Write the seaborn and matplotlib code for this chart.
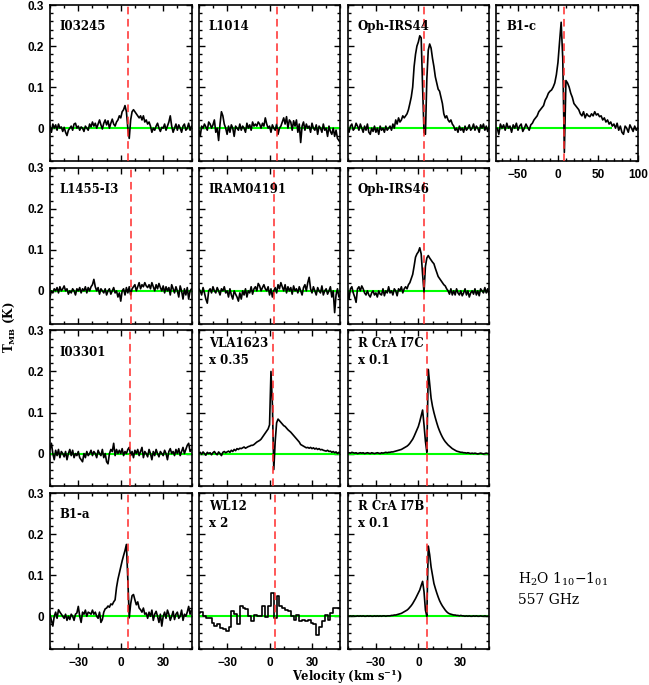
import numpy as np
import matplotlib
matplotlib.use("Agg")
import matplotlib.pyplot as plt
from matplotlib.ticker import MultipleLocator, FixedLocator, FuncFormatter
import seaborn as sns

# channel velocities (km/s)
vel = np.arange(-50, 51, 1)
vel_wl12 = np.arange(-50, 51, 2)
vel_b1c = np.arange(-76, 101, 2)

# main-beam temperatures (K)
I03245 = [0.005, -0.01, 0.01, 0.0, 0.008, -0.005, 0.01, 0.0, 0.003, -0.008,
          0.002, -0.01, -0.018, -0.005, 0.0, 0.005, -0.005, 0.01, 0.012, 0.0,
          0.005, -0.005, 0.003, 0.0, -0.008, 0.005, 0.0, -0.005, 0.01, 0.003,
          0.015, 0.005, 0.012, 0.0, 0.01, 0.02, 0.008, -0.002, 0.012, 0.02,
          0.008, 0.018, 0.0, 0.012, 0.022, 0.01, 0.005, 0.015, 0.02, 0.03,
          0.025, 0.04, 0.045, 0.055, 0.04, 0.0, -0.025, 0.02, 0.04, 0.045,
          0.04, 0.035, 0.03, 0.025, 0.03, 0.02, 0.03, 0.015, 0.02, 0.01,
          0.015, 0.005, -0.01, 0.0, -0.005, 0.005, 0.012, 0.0, -0.008, 0.002,
          0.0, 0.01, -0.005, 0.005, 0.015, 0.03, 0.005, -0.01, 0.0, 0.01,
          -0.005, 0.008, 0.0, -0.01, 0.005, 0.01, -0.005, 0.0, 0.012, -0.005,
          0.005]
L1014 = [-0.005, -0.02, 0.005, 0.0, 0.01, 0.003, -0.005, 0.015, 0.01, 0.0,
         0.008, 0.02, -0.01, 0.0, -0.03, 0.01, 0.04, 0.03, 0.01, 0.0,
         -0.015, 0.005, -0.01, 0.008, 0.0, -0.02, 0.005, 0.0, -0.005, 0.01,
         -0.005, 0.005, 0.0, -0.01, 0.012, 0.0, 0.008, -0.005, 0.015, 0.005,
         0.01, 0.005, 0.015, 0.01, 0.0, 0.012, 0.005, 0.025, 0.01, 0.0,
         0.005, -0.01, 0.008, 0.0, -0.005, 0.01, -0.015, 0.0, 0.005, 0.015,
         0.025, 0.01, 0.028, 0.0, 0.02, 0.015, -0.005, 0.018, 0.005, 0.02,
         -0.01, 0.01, -0.035, 0.005, 0.015, -0.005, 0.01, 0.0, 0.005, -0.01,
         0.012, 0.0, -0.005, 0.008, -0.015, 0.005, 0.0, -0.01, 0.01, -0.005,
         0.0, -0.02, 0.005, -0.008, -0.015, 0.0, -0.02, -0.005, -0.025, -0.03,
         -0.035]
OphIRS44 = [0.0, -0.01, 0.005, 0.01, -0.005, 0.0, 0.012, 0.005, -0.005, 0.01,
            0.0, -0.01, 0.005, -0.005, 0.01, -0.01, -0.015, 0.0, -0.008, 0.005,
            -0.01, 0.0, -0.015, 0.005, -0.005, 0.0, -0.01, 0.005, -0.005, 0.0,
            0.005, -0.005, 0.01, 0.0, 0.02, 0.01, 0.025, 0.015, 0.02, 0.03,
            0.025, 0.03, 0.035, 0.045, 0.06, 0.076, 0.1, 0.15, 0.18, 0.2,
            0.21, 0.225, 0.22, 0.1, -0.01, -0.015, 0.12, 0.19, 0.205, 0.195,
            0.17, 0.15, 0.125, 0.11, 0.095, 0.09, 0.075, 0.06, 0.035, 0.025,
            0.03, 0.02, 0.015, 0.02, 0.01, 0.005, -0.005, 0.0, -0.01, 0.005,
            -0.005, 0.0, -0.01, 0.005, -0.005, 0.0, 0.008, -0.005, 0.0, 0.01,
            -0.005, 0.005, 0.0, -0.01, 0.008, 0.0, 0.01, -0.005, 0.005, -0.008,
            0.005]
B1c = [0.0, -0.015, 0.01, 0.0, 0.008, -0.005, 0.012, 0.0, 0.005, -0.01,
       0.008, 0.0, 0.012, -0.005, 0.005, 0.01, -0.008, 0.0, 0.01, 0.002,
       -0.005, 0.008, 0.012, 0.02, 0.025, 0.03, 0.04, 0.045, 0.05, 0.055,
       0.068, 0.075, 0.085, 0.09, 0.093, 0.1, 0.11, 0.13, 0.16, 0.21,
       0.258, 0.17, -0.059, 0.116, 0.11, 0.1, 0.085, 0.075, 0.06, 0.055,
       0.05, 0.045, 0.035, 0.03, 0.04, 0.025, 0.035, 0.03, 0.028, 0.035,
       0.03, 0.04, 0.032, 0.035, 0.028, 0.03, 0.02, 0.025, 0.015, 0.02,
       0.01, 0.015, 0.005, 0.01, 0.0, 0.012, -0.005, 0.005, -0.01, -0.015,
       0.005, 0.0, -0.01, 0.008, 0.0, -0.008, 0.005, -0.005, 0.002]
L1455 = [-0.015, 0.0, -0.005, 0.005, 0.0, 0.008, -0.005, 0.01, 0.0, 0.005,
         0.012, 0.0, 0.005, -0.008, 0.0, -0.005, 0.005, 0.0, -0.01, 0.005,
         0.0, 0.008, -0.005, 0.005, 0.0, 0.01, -0.005, 0.008, 0.0, 0.01,
         0.015, 0.028, 0.01, 0.0, 0.008, -0.008, 0.005, 0.0, -0.005, 0.005,
         -0.01, 0.0, 0.005, -0.008, 0.0, 0.008, -0.005, 0.0, -0.015, -0.005,
         -0.025, 0.0, 0.005, -0.01, 0.008, -0.005, 0.01, -0.01, 0.005, 0.01,
         0.015, 0.0, 0.01, 0.02, 0.005, 0.015, 0.01, 0.02, 0.012, 0.008,
         0.015, 0.005, 0.02, 0.01, 0.0, 0.015, 0.005, 0.018, 0.008, 0.0,
         0.012, -0.005, 0.01, 0.0, 0.008, -0.01, 0.015, 0.005, -0.005, 0.01,
         0.0, -0.015, 0.012, 0.0, -0.02, 0.005, -0.01, 0.008, -0.02, 0.0,
         0.005]
IRAM04191 = [0.005, 0.0, -0.01, 0.008, -0.005, -0.02, -0.03, 0.0, 0.005, -0.005,
             0.01, 0.0, -0.005, 0.008, 0.0, -0.01, 0.005, 0.0, 0.01, -0.005,
             0.0, -0.015, 0.005, -0.01, -0.02, 0.0, -0.008, -0.015, -0.025, -0.005,
             -0.02, 0.0, -0.01, 0.005, -0.015, 0.0, -0.005, 0.01, -0.008, 0.005,
             0.01, 0.0, 0.018, 0.012, 0.0, 0.008, 0.015, 0.005, 0.0, 0.01,
             -0.01, 0.005, -0.015, 0.0, 0.008, -0.005, 0.015, 0.005, 0.02, 0.01,
             0.0, 0.015, -0.005, 0.01, 0.0, 0.008, -0.008, 0.012, 0.0, 0.005,
             -0.005, 0.01, 0.0, -0.01, 0.008, 0.015, 0.0, 0.02, 0.033, 0.005,
             -0.005, 0.01, 0.0, -0.01, 0.008, 0.0, -0.005, 0.012, -0.01, 0.0,
             0.005, -0.008, 0.0, 0.01, -0.015, 0.0, -0.053, -0.01, 0.005, -0.015,
             -0.01]
OphIRS46 = [0.0, -0.02, 0.005, 0.01, -0.005, -0.015, -0.028, 0.005, 0.01, 0.0,
            0.012, 0.005, -0.005, -0.01, 0.0, -0.01, -0.015, -0.005, 0.0, -0.01,
            -0.005, -0.015, 0.0, -0.008, -0.01, 0.005, -0.012, 0.0, -0.005, 0.01,
            -0.005, 0.0, -0.01, 0.005, 0.0, -0.012, 0.005, 0.0, 0.01, -0.005,
            0.005, 0.01, 0.005, 0.015, 0.02, 0.03, 0.04, 0.06, 0.082, 0.09,
            0.095, 0.105, 0.09, 0.04, -0.004, 0.06, 0.08, 0.086, 0.08, 0.075,
            0.07, 0.066, 0.055, 0.045, 0.035, 0.03, 0.025, 0.02, 0.015, 0.012,
            0.005, 0.0, -0.008, 0.005, -0.01, 0.0, -0.01, 0.005, -0.005, -0.01,
            0.0, -0.012, -0.005, 0.005, -0.01, 0.0, -0.015, -0.005, 0.0, -0.008,
            0.005, -0.01, 0.0, -0.012, 0.005, 0.0, -0.005, 0.008, -0.005, 0.005,
            -0.01]
I03301 = [0.01, 0.025, 0.0, -0.015, 0.008, -0.005, 0.01, -0.01, 0.005, 0.0,
          -0.008, 0.005, -0.015, 0.0, 0.01, -0.005, 0.008, -0.01, 0.0, -0.005,
          0.005, -0.01, -0.015, -0.02, 0.0, -0.01, 0.005, -0.005, 0.0, 0.008,
          -0.005, 0.005, 0.0, -0.01, 0.008, 0.0, -0.005, 0.01, -0.01, 0.0,
          -0.02, -0.025, 0.0, 0.01, 0.005, 0.025, -0.005, 0.01, 0.0, 0.008,
          0.0, 0.012, -0.005, 0.005, 0.0, 0.01, 0.015, -0.005, 0.005, -0.01,
          0.008, 0.0, 0.01, -0.005, 0.005, 0.015, -0.01, 0.005, 0.0, -0.008,
          0.01, 0.0, -0.015, 0.005, -0.005, 0.01, 0.0, -0.008, 0.005, 0.0,
          -0.005, 0.008, 0.0, -0.015, 0.005, 0.012, 0.0, 0.005, -0.005, 0.01,
          0.0, 0.012, -0.005, 0.005, 0.015, 0.0, 0.01, 0.02, 0.025, 0.005,
          0.01]
VLA1623 = [0.0, 0.003, -0.002, 0.004, 0.0, -0.004, 0.003, 0.0, 0.002, -0.003,
           0.002, 0.005, 0.0, -0.003, 0.004, 0.0, -0.005, 0.003, 0.005, 0.002,
           0.004, 0.006, 0.003, 0.008, 0.005, 0.01, 0.007, 0.012, 0.01, 0.013,
           0.012, 0.014, 0.016, 0.013, 0.015, 0.017, 0.018, 0.02, 0.02, 0.022,
           0.025, 0.028, 0.03, 0.032, 0.035, 0.04, 0.045, 0.05, 0.055, 0.06,
           0.07, 0.2, 0.12, -0.039, 0.03, 0.075, 0.084, 0.08, 0.076, 0.072,
           0.068, 0.066, 0.062, 0.058, 0.055, 0.052, 0.048, 0.044, 0.04, 0.036,
           0.032, 0.028, 0.022, 0.02, 0.018, 0.016, 0.014, 0.015, 0.013, 0.015,
           0.012, 0.014, 0.011, 0.013, 0.01, 0.012, 0.009, 0.01, 0.008, 0.007,
           0.006, 0.008, 0.005, 0.006, 0.003, 0.005, 0.002, 0.004, 0.0, 0.003,
           0.0]
RCrA_I7C = [0.002, 0.002, 0.001, 0.003, 0.002, 0.001, 0.002, 0.0, 0.001, 0.002,
            0.001, 0.002, 0.0, 0.001, 0.002, 0.001, 0.0, 0.002, 0.001, 0.0,
            0.001, 0.002, 0.001, 0.0, 0.002, 0.001, 0.002, 0.003, 0.002, 0.003,
            0.003, 0.004, 0.004, 0.005, 0.006, 0.007, 0.008, 0.009, 0.01, 0.012,
            0.014, 0.016, 0.018, 0.021, 0.025, 0.03, 0.035, 0.042, 0.05, 0.058,
            0.066, 0.078, 0.092, 0.106, 0.07, 0.03, 0.003, 0.205, 0.17, 0.135,
            0.115, 0.1, 0.087, 0.075, 0.064, 0.055, 0.047, 0.04, 0.034, 0.029,
            0.025, 0.021, 0.018, 0.015, 0.012, 0.01, 0.008, 0.006, 0.005, 0.004,
            0.003, 0.003, 0.002, 0.002, 0.001, 0.002, 0.001, 0.0, 0.001, 0.0,
            0.001, 0.0, -0.001, 0.0, 0.001, 0.0, -0.001, 0.0, 0.001, 0.0,
            0.0]
B1a = [0.005, -0.01, -0.024, 0.0, 0.01, -0.005, 0.016, 0.01, 0.005, 0.0,
       -0.005, 0.005, -0.01, 0.0, -0.008, 0.005, 0.0, -0.01, 0.005, 0.008,
       0.024, 0.0, -0.015, 0.01, 0.005, 0.015, 0.0, 0.01, 0.008, 0.005,
       0.015, 0.005, 0.01, 0.0, -0.005, 0.01, -0.015, -0.008, 0.01, 0.018,
       0.02, 0.025, 0.022, 0.03, 0.028, 0.035, 0.04, 0.07, 0.09, 0.105,
       0.12, 0.135, 0.148, 0.16, 0.175, 0.09, -0.004, 0.03, 0.05, 0.053,
       0.04, 0.028, 0.035, 0.02, 0.016, 0.01, 0.02, 0.005, 0.008, -0.005,
       0.01, 0.0, 0.015, -0.01, 0.005, 0.012, 0.0, -0.015, 0.005, -0.024,
       0.0, 0.01, -0.005, 0.015, 0.005, -0.01, 0.0, 0.012, -0.008, 0.005,
       0.01, -0.005, 0.0, 0.015, -0.01, 0.005, 0.0, 0.01, 0.024, 0.005,
       0.015]
WL12 = [0.008, 0.01, 0.0, -0.004, -0.004, -0.016, -0.024, -0.02, -0.028, -0.03,
        -0.037, -0.025, 0.012, 0.005, -0.02, 0.026, 0.02, 0.018, 0.0, -0.012,
        0.004, 0.0, 0.0, 0.024, -0.002, 0.024, 0.057, -0.004, 0.049, 0.024,
        0.02, 0.015, 0.012, 0.0, -0.008, 0.004, -0.012, -0.01, -0.012, -0.008,
        -0.016, -0.018, -0.045, -0.025, -0.012, 0.004, -0.008, 0.008, 0.02, 0.02,
        0.02]
RCrA_I7B = [0.001, 0.0, 0.001, 0.0, 0.001, 0.0, 0.0, 0.001, 0.0, 0.001,
            0.0, 0.001, 0.0, 0.0, 0.001, 0.0, 0.001, 0.0, 0.0, 0.001,
            0.0, 0.001, 0.0, 0.001, 0.0, 0.001, 0.001, 0.0, 0.001, 0.001,
            0.001, 0.002, 0.002, 0.003, 0.003, 0.004, 0.005, 0.006, 0.007, 0.009,
            0.011, 0.013, 0.015, 0.018, 0.022, 0.026, 0.031, 0.037, 0.043, 0.05,
            0.057, 0.064, 0.075, 0.085, 0.06, 0.015, 0.0, 0.171, 0.15, 0.12,
            0.1, 0.08, 0.068, 0.057, 0.047, 0.038, 0.031, 0.025, 0.02, 0.015,
            0.011, 0.008, 0.006, 0.005, 0.004, 0.003, 0.003, 0.002, 0.002, 0.001,
            0.002, 0.001, 0.001, 0.0, 0.001, 0.0, 0.001, 0.0, 0.0, 0.001,
            0.0, 0.001, 0.0, 0.0, 0.001, 0.0, 0.0, 0.001, 0.0, 0.0,
            0.0]

# panel labels, source velocities, grid slots
names = ["I03245", "L1014", "Oph-IRS44", "B1-c",
         "L1455-I3", "IRAM04191", "Oph-IRS46",
         "I03301", "VLA1623\nx 0.35", "R CrA I7C\nx 0.1",
         "B1-a", "WL12\nx 2", "R CrA I7B\nx 0.1"]
spectra = [I03245, L1014, OphIRS44, B1c, L1455, IRAM04191, OphIRS46,
           I03301, VLA1623, RCrA_I7C, B1a, WL12, RCrA_I7B]
vlsr = [5.2, 5.4, 3.9, 7.2, 7.5, 3.3, 3.9, 6.8, 2.5, 5.8, 5.2, 4.2, 5.8]
slots = [(0, 0), (0, 1), (0, 2), (0, 3), (1, 0), (1, 1), (1, 2),
         (2, 0), (2, 1), (2, 2), (3, 0), (3, 1), (3, 2)]

sns.set_style("ticks")
plt.rcParams['font.family'] = ['Liberation Sans', 'DejaVu Sans']
plt.rcParams['font.weight'] = 'bold'
plt.rcParams['mathtext.default'] = 'regular'
plt.rcParams['xtick.direction'] = 'in'
plt.rcParams['ytick.direction'] = 'in'
for key in ['text.color', 'axes.labelcolor', 'axes.edgecolor',
            'xtick.color', 'ytick.color']:
    plt.rcParams[key] = 'black'

W, H = 649, 685
fig = plt.figure(figsize=(W / 100, H / 100), dpi=100)

ax_w, ax_h = 141.5, 156.0
col_x = [50, 198.8, 347.6, 496.4]
row_y = [5, 167.7, 330.4, 493.1]

serif = 'DejaVu Serif'

for name, spec, v0, (r, c) in zip(names, spectra, vlsr, slots):
    l, t = col_x[c], row_y[r]
    ax = fig.add_axes([l / W, 1 - (t + ax_h) / H, ax_w / W, ax_h / H])

    if name == "B1-c":
        x = vel_b1c
        xlim = (-77, 100)
        ax.hlines(0, -77, 68, color='#00ff00', lw=1.5, zorder=1)
    elif name.startswith("WL12"):
        x = vel_wl12
        xlim = (-50, 50)
        ax.axhline(0, color='#00ff00', lw=1.5, zorder=1)
    else:
        x = vel
        xlim = (-50, 50)
        ax.axhline(0, color='#00ff00', lw=1.5, zorder=1)

    sns.lineplot(x=x, y=spec, ax=ax, color='black', lw=1.2,
                 estimator=None, zorder=2,
                 drawstyle='steps-mid' if name.startswith("WL12") else 'default')
    ax.axvline(v0, color='#ff2a2a', lw=1.1, ls=(0, (5, 3)), zorder=3)

    ax.set_xlim(*xlim)
    ax.set_ylim(-0.08, 0.3)
    ax.set_xlabel("")
    ax.set_ylabel("")

    if name == "B1-c":
        ax.xaxis.set_major_locator(FixedLocator([-50, 0, 50, 100]))
    else:
        ax.xaxis.set_major_locator(FixedLocator([-30, 0, 30]))
    ax.xaxis.set_minor_locator(MultipleLocator(10))
    ax.yaxis.set_major_locator(MultipleLocator(0.1))
    ax.yaxis.set_minor_locator(MultipleLocator(0.02))
    ax.yaxis.set_major_formatter(FuncFormatter(lambda v, p: "0" if abs(v) < 1e-9 else f"{v:.1f}"))
    ax.xaxis.set_major_formatter(FuncFormatter(lambda v, p: f"{v:.0f}".replace("-", "\u2212")))

    ax.tick_params(which='both', top=True, right=True, width=1.0, labelsize=8.5)
    ax.tick_params(which='major', length=4.3)
    ax.tick_params(which='minor', length=2.4)
    ax.tick_params(axis='y', pad=4.5)
    ax.tick_params(axis='x', pad=5.5)
    ax.tick_params(labelleft=(c == 0), labelbottom=(r == 3 or name == "B1-c"))
    for s in ax.spines.values():
        s.set_linewidth(1.2)
        s.set_visible(True)

    ax.text(0.07, 0.86, name, transform=ax.transAxes, family=serif,
            fontweight='bold', fontsize=8.5, va='center', ha='left',
            linespacing=1.35)

fig.text(9 / W, 1 - 327 / H, r"T$_{MB}$ (K)", rotation=90, family=serif,
         fontweight='bold', fontsize=8.5, ha='center', va='center')
fig.text(347 / W, 1 - 677 / H, r"Velocity (km s$^{-1}$)", family=serif,
         fontweight='bold', fontsize=8.3, ha='center', va='center')
fig.text(518 / W, 1 - 589 / H, "H$_2$O 1$_{10}$$-$1$_{01}$\n557 GHz",
         family=serif, fontweight='normal', fontsize=10, ha='left',
         va='center', linespacing=1.45)

fig.savefig("out.png", dpi=100)
